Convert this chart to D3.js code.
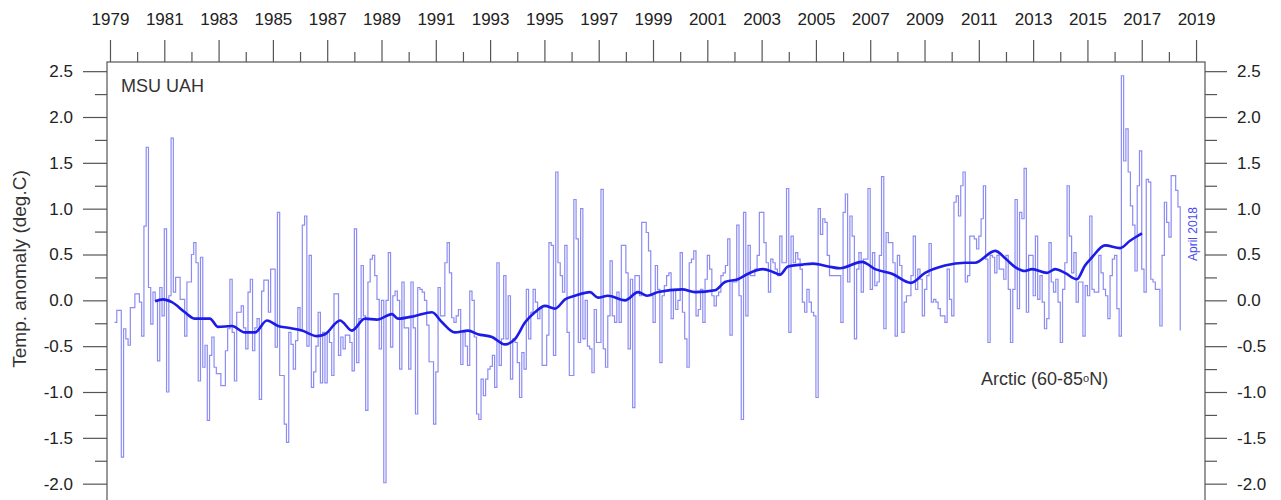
<!DOCTYPE html>
<html>
<head>
<meta charset="utf-8">
<script src="https://cdn.jsdelivr.net/npm/d3@7"></script>
<style>
  body { margin: 0; background: #fff; }
  svg { display: block; font-family: "Liberation Sans", Arial, sans-serif; }
</style>
</head>
<body>
<svg id="chart" width="1281" height="500"></svg>
<script>
// MSU UAH lower troposphere, Arctic 60-85N, monthly anomaly (deg.C)
// Jan 1979 .. Apr 2018, twelve values per row
var firstYear = 1979
var monthly = [
  -0.24, -0.11, -0.11, -1.71, -0.31, -0.42, -0.49, -0.08, -0.08, 0.07, 0.07, -0.02,
  -0.39, 0.81, 1.67, 0.14, -0.26, 0.09, 0.0, -0.66, 0.14, -0.17, 0.78, -1.0,
  0.05, 1.77, 0.09, 0.25, 0.25, 0.01, 0.01, -0.39, 0.2, 0.2, 0.5, 0.63,
  0.41, -0.88, 0.47, -0.73, -0.49, -1.31, -0.6, -0.4, -0.73, -0.8, -0.8, -0.93,
  -0.93, -0.55, -0.31, 0.23, -0.35, -0.88, -0.13, -0.13, -0.06, -0.3, -0.53, 0.09,
  0.23, -0.55, -0.3, -0.2, -1.08, 0.1, 0.22, 0.22, -0.13, 0.34, 0.34, -0.51,
  0.96, -0.82, -0.82, -1.35, -1.55, -0.35, -0.48, -0.75, -0.44, -0.08, -0.33, 0.82,
  0.92, -0.5, 0.49, -0.95, -0.78, -0.5, -0.13, -0.9, -0.35, -0.9, -0.35, -0.46,
  -0.82, 0.07, 0.07, -0.6, -0.4, -0.53, -0.38, -0.38, -0.46, -0.77, 0.78, -0.68,
  -0.2, 0.38, -0.17, -1.2, 0.2, 0.45, 0.49, 0.27, 0.01, -0.53, 0.0, -1.99,
  0.0, 0.52, -0.51, 0.05, 0.1, 0.0, -0.75, 0.2, -0.3, -0.3, -0.75, 0.2,
  -0.3, -1.24, 0.14, 0.12, 0.09, 0.0, -0.27, -0.67, -0.67, -1.35, -0.78, 0.14,
  -0.17, -0.17, 0.41, 0.63, 0.3, -0.19, -0.24, -0.17, -0.1, -0.7, -0.35, -0.5,
  -0.71, 0.1, 0.0, -0.4, -1.24, -1.3, -0.86, -1.04, -0.86, -0.75, -0.72, -0.6,
  -0.95, 0.41, -0.71, -0.42, 0.27, -0.42, 0.05, -0.86, -0.42, -0.46, -0.68, -1.06,
  -0.57, -0.75, 0.12, -0.42, -0.13, 0.12, -0.02, -0.2, -0.09, -0.71, -0.71, -0.38,
  0.63, 0.6, -0.6, 1.4, 0.41, 0.27, 0.09, 0.6, -0.35, -0.82, -0.82, 1.1,
  0.67, -0.46, 1.0, -0.42, 0.0, -0.5, -0.53, -0.79, -0.1, -0.46, -0.46, 1.21,
  -0.53, -0.73, -0.17, 0.43, -0.17, -0.24, 0.09, -0.24, 0.6, 0.6, 0.3, -0.53,
  0.23, -1.17, 0.27, 0.27, 0.05, 0.85, 0.85, 0.74, 0.54, 0.05, -0.24, 0.38,
  0.12, -0.68, 0.05, 0.16, 0.27, 0.3, -0.2, 0.12, -0.1, 0.0, 0.52, -0.13,
  -0.42, -0.73, 0.41, 0.45, 0.54, -0.17, -0.1, 0.12, -0.24, 0.23, 0.49, 0.34,
  0.05, -0.06, 0.05, 0.09, 0.27, 0.3, 0.38, 0.67, -0.38, 0.2, 0.2, 0.82,
  0.05, -1.3, 0.96, -0.17, 0.6, 0.27, 0.27, 0.34, 0.49, 0.96, 0.96, 0.63,
  0.41, 0.09, 0.45, 0.41, 0.34, 0.27, 0.7, 0.41, 0.41, 1.22, -0.35, 0.7,
  0.41, 0.52, 0.45, 0.34, -0.02, -0.13, 0.12, -0.02, -0.13, -0.17, -1.06, 1.0,
  0.72, 0.89, 0.85, 0.49, 0.27, 0.27, 0.27, 0.27, 0.27, -0.24, 0.96, 1.16,
  0.2, 0.92, 0.7, -0.42, 0.34, 0.52, 0.09, 0.45, 0.45, 1.22, 0.12, 0.52,
  0.16, 0.2, 0.49, 1.35, -0.31, 0.74, 0.63, 0.63, 0.41, -0.39, 0.49, 0.38,
  -0.35, -0.02, 0.05, 0.05, 0.27, 0.7, 0.12, 0.34, 0.23, -0.17, 0.12, 0.27,
  0.62, -0.02, 0.01, -0.02, -0.09, -0.17, -0.17, -0.24, 0.34, 0.01, -0.17, 1.07,
  1.14, 0.92, 1.25, 1.4, 0.2, 0.27, 0.7, 0.7, 0.67, 0.56, 0.7, 0.89,
  1.25, 0.45, -0.46, 0.49, 0.47, 0.3, 0.49, 0.34, 0.34, 0.23, 0.49, 0.12,
  -0.46, 0.12, 1.1, -0.09, 0.96, 0.89, 1.44, -0.13, 0.49, 0.49, 0.05, 0.7,
  0.01, 0.27, -0.02, -0.31, -0.2, 0.63, 0.2, 0.09, 0.23, -0.02, -0.46, 0.12,
  0.41, 1.25, 0.7, 0.3, 0.52, -0.02, 0.2, 0.2, -0.39, 0.16, 0.05, 0.92,
  0.12, 0.09, 0.09, 0.49, 0.3, 0.12, 0.05, -0.2, 0.27, 0.45, 0.49, -0.09,
  -0.39, 2.45, 1.52, 1.87, 1.4, 1.03, 0.82, 0.32, 1.25, 1.63, 0.34, 0.09,
  1.32, 1.29, 0.23, 0.2, 0.12, 0.12, -0.28, 0.49, 1.07, 0.85, 0.69, 1.36,
  1.36, 1.2, 1.02, -0.33
]

// 37-month running mean (decimal year, deg.C)
var meanYears = [1980.66, 1980.95, 1981.28, 1981.76, 1982.13, 1982.68, 1982.98, 1983.49, 1983.97, 1984.34,
  1984.78, 1985.19, 1985.56, 1986.07, 1986.62, 1986.92, 1987.47, 1987.91, 1988.39, 1988.83,
  1989.39, 1989.6, 1990.23, 1990.86, 1991.23, 1991.7, 1992.19, 1992.55, 1993.07, 1993.55,
  1993.92, 1994.29, 1994.65, 1995.02, 1995.39, 1995.76, 1996.13, 1996.68, 1996.97, 1997.34,
  1997.97, 1998.45, 1998.78, 1999.19, 2000.07, 2000.55, 2001.28, 2001.65, 2002.13, 2002.5,
  2003.05, 2003.42, 2003.68, 2003.97, 2004.49, 2004.9, 2005.45, 2005.89, 2006.7, 2007.18,
  2007.8, 2008.5, 2009.02, 2009.75, 2010.49, 2010.86, 2011.6, 2012.0, 2012.35, 2012.7,
  2012.96, 2013.51, 2013.81, 2014.17, 2014.61, 2014.91, 2015.17, 2015.65, 2016.2, 2016.57,
  2017.01]
var meanValues = [-0.01, 0.01, -0.02, -0.13, -0.2, -0.2, -0.29, -0.28, -0.35, -0.35,
  -0.22, -0.28, -0.3, -0.33, -0.39, -0.37, -0.22, -0.33, -0.2, -0.21,
  -0.15, -0.2, -0.17, -0.13, -0.24, -0.35, -0.33, -0.37, -0.4, -0.48,
  -0.42, -0.24, -0.13, -0.06, -0.09, 0.01, 0.05, 0.09, 0.03, 0.05,
  0.0, 0.09, 0.05, 0.09, 0.12, 0.09, 0.11, 0.2, 0.23, 0.29,
  0.34, 0.31, 0.28, 0.37, 0.39, 0.4, 0.37, 0.35, 0.42, 0.34,
  0.29, 0.19, 0.3, 0.38, 0.41, 0.41, 0.54, 0.45, 0.36, 0.32,
  0.34, 0.3, 0.34, 0.3, 0.23, 0.38, 0.47, 0.6, 0.57, 0.65,
  0.73]

var yearMajor = d3.range(1979, 2020, 2)
var yearMinor = d3.range(1980, 2020, 2)
var valueMajor = [-2.0, -1.5, -1.0, -0.5, 0.0, 0.5, 1.0, 1.5, 2.0, 2.5]
var valueMinor = [-1.75, -1.25, -0.75, -0.25, 0.25, 0.75, 1.25, 1.75, 2.25]

var svg = d3.select('#chart'),
  plotLeft = 107, plotRight = 1205, plotTop = 62, plotBottom = 502

var x = d3.scaleLinear().domain([1978.89, 2019.33]).range([plotLeft, plotRight])
var y = d3.scaleLinear().domain([-2.2, 2.6]).range([plotBottom, plotTop])

var axisColor = '#555', textColor = '#222'

function styleAxis (g) {
  g.select('.domain').remove()
  g.selectAll('line').attr('stroke', axisColor).attr('stroke-width', 1.2)
  g.selectAll('text').attr('fill', textColor).style('font-size', '17px')
    .style('font-family', '"Liberation Sans", Arial, sans-serif')
}

var fmt = function (d) { return d.toFixed(1) }

// top year axis
svg.append('g').attr('transform', 'translate(0,' + plotTop + ')')
  .call(d3.axisTop(x).tickValues(yearMajor).tickSize(22).tickPadding(15).tickFormat(d3.format('d')))
  .call(styleAxis)
svg.append('g').attr('transform', 'translate(0,' + plotTop + ')')
  .call(d3.axisTop(x).tickValues(yearMinor).tickSize(10).tickFormat(''))
  .call(styleAxis)

// left + right value axes
svg.append('g').attr('transform', 'translate(' + plotLeft + ',0)')
  .call(d3.axisLeft(y).tickValues(valueMajor).tickSize(24).tickPadding(10).tickFormat(fmt))
  .call(styleAxis)
svg.append('g').attr('transform', 'translate(' + plotLeft + ',0)')
  .call(d3.axisLeft(y).tickValues(valueMinor).tickSize(12).tickFormat(''))
  .call(styleAxis)
svg.append('g').attr('transform', 'translate(' + plotRight + ',0)')
  .call(d3.axisRight(y).tickValues(valueMajor).tickSize(22).tickPadding(10).tickFormat(fmt))
  .call(styleAxis)
svg.append('g').attr('transform', 'translate(' + plotRight + ',0)')
  .call(d3.axisRight(y).tickValues(valueMinor).tickSize(12).tickFormat(''))
  .call(styleAxis)

// frame
svg.append('rect')
  .attr('x', plotLeft).attr('y', plotTop)
  .attr('width', plotRight - plotLeft).attr('height', plotBottom - plotTop)
  .attr('fill', 'none').attr('stroke', axisColor).attr('stroke-width', 1.2)

svg.append('clipPath').attr('id', 'plot')
  .append('rect').attr('x', plotLeft).attr('y', plotTop)
  .attr('width', plotRight - plotLeft).attr('height', plotBottom - plotTop)

var plot = svg.append('g').attr('clip-path', 'url(#plot)')

// monthly steps; the source draws each month two months right of the year ticks
var points = monthly.map(function (v, k) {
  return { t: firstYear + (k + 2) / 12, v: v }
})

plot.append('path')
  .datum(points)
  .attr('fill', 'none')
  .attr('stroke', '#4646ec')
  .attr('stroke-opacity', 0.62)
  .attr('stroke-width', 1.2)
  .attr('d', d3.line()
    .curve(d3.curveStepAfter)
    .x(function (d) { return x(d.t) })
    .y(function (d) { return y(d.v) }))

plot.append('path')
  .datum(d3.zip(meanYears, meanValues))
  .attr('fill', 'none')
  .attr('stroke', '#1c1ce6')
  .attr('stroke-width', 2.6)
  .attr('stroke-linejoin', 'round')
  .attr('d', d3.line()
    .curve(d3.curveMonotoneX)
    .x(function (d) { return x(d[0]) })
    .y(function (d) { return y(d[1]) }))

// labels
svg.append('text')
  .attr('x', 121).attr('y', 92)
  .attr('fill', '#333').style('font-size', '18px')
  .text('MSU UAH')

var arctic = svg.append('text')
  .attr('x', 981).attr('y', 385)
  .attr('fill', '#333').style('font-size', '18px')
arctic.append('tspan').text('Arctic (60-85')
arctic.append('tspan').attr('dy', -3).style('font-size', '11px').text('o')
arctic.append('tspan').attr('dy', 3).text('N)')

svg.append('text')
  .attr('transform', 'translate(1197,234) rotate(-90)')
  .attr('text-anchor', 'middle')
  .attr('fill', '#4a4af0').style('font-size', '12px')
  .text('April 2018')

svg.append('text')
  .attr('transform', 'translate(26,269) rotate(-90)')
  .attr('text-anchor', 'middle')
  .attr('fill', '#333').style('font-size', '19px')
  .text('Temp. anomaly (deg.C)')
</script>
</body>
</html>
